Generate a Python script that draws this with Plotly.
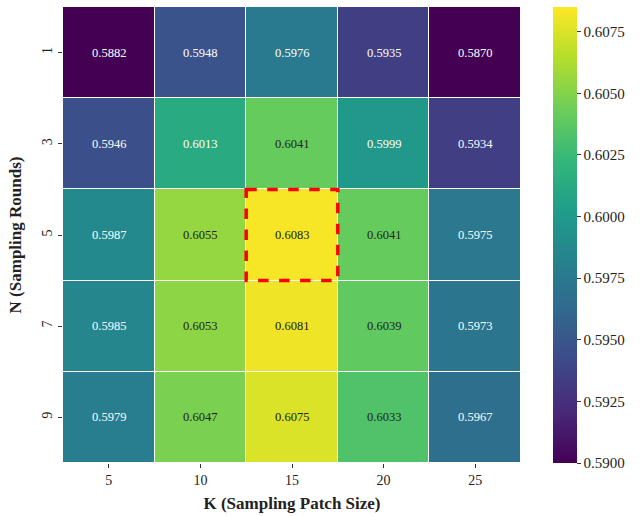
import plotly.graph_objects as go

k_labels = ["5", "10", "15", "20", "25"]
n_labels = ["1", "3", "5", "7", "9"]
values = [
    [0.5882, 0.5948, 0.5976, 0.5935, 0.5870],
    [0.5946, 0.6013, 0.6041, 0.5999, 0.5934],
    [0.5987, 0.6055, 0.6083, 0.6041, 0.5975],
    [0.5985, 0.6053, 0.6081, 0.6039, 0.5973],
    [0.5979, 0.6047, 0.6075, 0.6033, 0.5967],
]
cb_ticks = [0.5900, 0.5925, 0.5950, 0.5975, 0.6000, 0.6025, 0.6050, 0.6075]
zmin, zmax = 0.5900, 0.6085
best = (2, 2)

FONT = "Liberation Serif, Times New Roman, serif"
xs = list(range(len(k_labels)))
ys = list(range(len(n_labels)))

fig = go.Figure(go.Heatmap(
    z=values, x=xs, y=ys, colorscale="Viridis", zmin=zmin, zmax=zmax,
    xgap=1, ygap=1,
    colorbar=dict(
        thickness=24, len=1.0, lenmode="fraction", y=0.5, yanchor="middle",
        x=1.07, xanchor="left", outlinewidth=0, ypad=0, xpad=0,
        tickvals=cb_ticks, ticktext=[f"{t:.4f}" for t in cb_ticks],
        ticks="outside", ticklen=4, tickcolor="#333",
        tickfont=dict(family=FONT, size=15, color="#222"),
    ),
    hoverinfo="skip",
))

for i, row in enumerate(values):
    for j, v in enumerate(row):
        color = "white" if v < 0.6020 else "#222"
        fig.add_annotation(x=xs[j], y=ys[i], text=f"{v:.4f}", showarrow=False,
                           font=dict(family=FONT, size=12.5, color=color))

fig.add_shape(type="rect", xref="x", yref="y",
              x0=best[1] - 0.5, x1=best[1] + 0.5, y0=best[0] - 0.5, y1=best[0] + 0.5,
              line=dict(color="red", width=3.5, dash="dash"))

fig.update_layout(
    width=643, height=516,
    margin=dict(l=63, r=122, t=7, b=53, autoexpand=False),
    paper_bgcolor="white", plot_bgcolor="white",
    font=dict(family=FONT, color="#222"),
    xaxis=dict(tickvals=xs, ticktext=k_labels, showgrid=False, zeroline=False,
               ticks="outside", ticklen=4, tickcolor="#333",
               tickfont=dict(size=14), range=[-0.5, 4.5],
               title=dict(text="<b>K (Sampling Patch Size)</b>", font=dict(size=17), standoff=10)),
    yaxis=dict(tickvals=ys, ticktext=n_labels, showgrid=False, zeroline=False,
               ticks="outside", ticklen=4, tickcolor="#333", tickangle=-90,
               tickfont=dict(size=14), range=[4.5, -0.5],
               title=dict(text="<b>N (Sampling Rounds)</b>", font=dict(size=17), standoff=14)),
)

fig.write_html("out.html", config={"displayModeBar": False},
               post_script="document.body.style.margin='0';document.body.style.overflow='hidden';")
